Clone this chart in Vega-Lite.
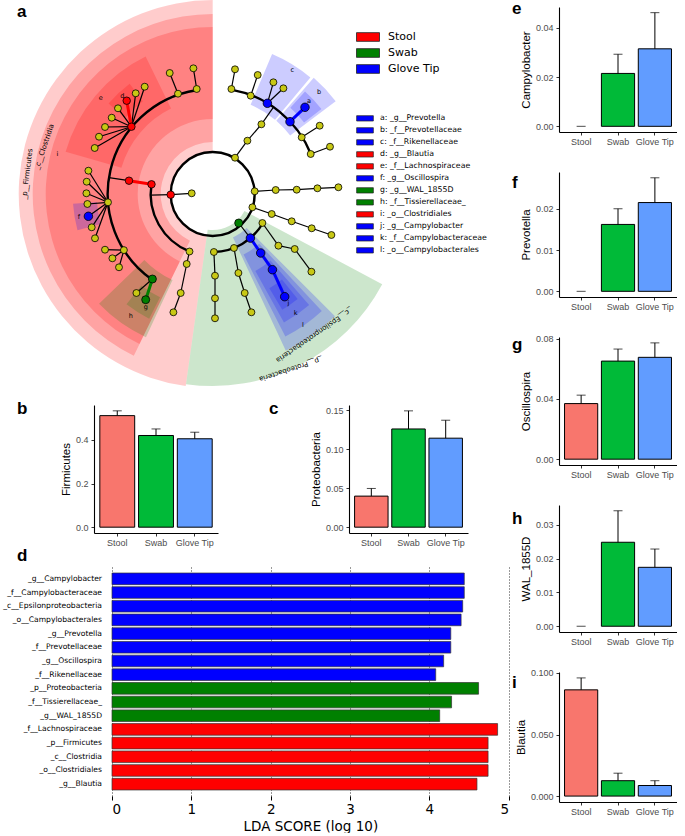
{
"$schema": "https://vega.github.io/schema/vega-lite/v6.json",
"padding": {"left": 2, "top": 0, "right": 0, "bottom": 0},
"background": "white",
"resolve": {"scale": {"color": "independent"}},
"config": {
  "view": {"stroke": null},
  "font": "Liberation Sans",
  "axis": {"labelFontSize": 9, "labelColor": "#4D4D4D", "labelFont": "Liberation Sans", "titleFont": "Liberation Sans", "titleFontSize": 11.5, "titleFontWeight": "normal", "titleColor": "black", "tickSize": 3, "tickColor": "#333333", "domainColor": "black", "domainWidth": 1.1, "labelPadding": 3, "titlePadding": 4, "grid": false},
  "axisX": {"labelPadding": 2},
  "legend": {"labelFont": "DejaVu Sans", "labelColor": "black", "padding": 0, "titlePadding": 0},
  "title": {"font": "Liberation Sans"}
},
"datasets": {
  "abund": [
    {"panel": "Firmicutes", "group": "Stool", "mean": 0.511, "upper": 0.533},
    {"panel": "Firmicutes", "group": "Swab", "mean": 0.42, "upper": 0.45},
    {"panel": "Firmicutes", "group": "Glove Tip", "mean": 0.405, "upper": 0.435},
    {"panel": "Proteobacteria", "group": "Stool", "mean": 0.0398, "upper": 0.0496},
    {"panel": "Proteobacteria", "group": "Swab", "mean": 0.1258, "upper": 0.149},
    {"panel": "Proteobacteria", "group": "Glove Tip", "mean": 0.114, "upper": 0.137},
    {"panel": "Campylobacter", "group": "Stool", "mean": 0, "upper": 0},
    {"panel": "Campylobacter", "group": "Swab", "mean": 0.0215, "upper": 0.0293},
    {"panel": "Campylobacter", "group": "Glove Tip", "mean": 0.0315, "upper": 0.0462},
    {"panel": "Prevotella", "group": "Stool", "mean": 0, "upper": 0},
    {"panel": "Prevotella", "group": "Swab", "mean": 0.0162, "upper": 0.02},
    {"panel": "Prevotella", "group": "Glove Tip", "mean": 0.0215, "upper": 0.0275},
    {"panel": "Oscillospira", "group": "Stool", "mean": 0.0369, "upper": 0.0425},
    {"panel": "Oscillospira", "group": "Swab", "mean": 0.0651, "upper": 0.0731},
    {"panel": "Oscillospira", "group": "Glove Tip", "mean": 0.0676, "upper": 0.0772},
    {"panel": "WAL_1855D", "group": "Stool", "mean": 0, "upper": 0},
    {"panel": "WAL_1855D", "group": "Swab", "mean": 0.0248, "upper": 0.0341},
    {"panel": "WAL_1855D", "group": "Glove Tip", "mean": 0.0174, "upper": 0.0228},
    {"panel": "Blautia", "group": "Stool", "mean": 0.0863, "upper": 0.096},
    {"panel": "Blautia", "group": "Swab", "mean": 0.0125, "upper": 0.0186},
    {"panel": "Blautia", "group": "Glove Tip", "mean": 0.0086, "upper": 0.0125}
  ],
  "lda": [
    {"taxon": "_g__Campylobacter", "group": "Glove Tip", "lda": 4.44},
    {"taxon": "_f__Campylobacteraceae", "group": "Glove Tip", "lda": 4.44},
    {"taxon": "_c__Epsilonproteobacteria", "group": "Glove Tip", "lda": 4.42},
    {"taxon": "_o__Campylobacterales", "group": "Glove Tip", "lda": 4.40},
    {"taxon": "_g__Prevotella", "group": "Glove Tip", "lda": 4.27},
    {"taxon": "_f__Prevotellaceae", "group": "Glove Tip", "lda": 4.27},
    {"taxon": "_g__Oscillospira", "group": "Glove Tip", "lda": 4.18},
    {"taxon": "_f__Rikenellaceae", "group": "Glove Tip", "lda": 4.08},
    {"taxon": "_p__Proteobacteria", "group": "Swab", "lda": 4.62},
    {"taxon": "_f__Tissierellaceae_", "group": "Swab", "lda": 4.28},
    {"taxon": "_g__WAL_1855D", "group": "Swab", "lda": 4.13},
    {"taxon": "_f__Lachnospiraceae", "group": "Stool", "lda": 4.86},
    {"taxon": "_p__Firmicutes", "group": "Stool", "lda": 4.74},
    {"taxon": "_c__Clostridia", "group": "Stool", "lda": 4.74},
    {"taxon": "_o__Clostridiales", "group": "Stool", "lda": 4.74},
    {"taxon": "_g__Blautia", "group": "Stool", "lda": 4.60}
  ],
  "clades": [
    {"clade": "_p__Firmicutes", "grp": "Stool", "t1": 188, "t2": 360, "r1": 42, "r2": 194},
    {"clade": "_c__Clostridia", "grp": "Stool", "t1": 206, "t2": 360, "r1": 52, "r2": 180},
    {"clade": "_p__Proteobacteria", "grp": "Swab", "t1": 118, "t2": 188, "r1": 36, "r2": 192},
    {"clade": "_c__Epsilonproteobacteria", "grp": "Glove Tip", "t1": 135, "t2": 155, "r1": 48, "r2": 173}
  ],
  "bio": [
    {"label": "i: _o__Clostridiales", "t1": 206, "t2": 360, "r1": 75, "r2": 167},
    {"label": "e: _f__Lachnospiraceae", "t1": 286, "t2": 334, "r1": 95, "r2": 153},
    {"label": "d: _g__Blautia", "t1": 311, "t2": 323, "r1": 116, "r2": 138},
    {"label": "f: _g__Oscillospira", "t1": 255, "t2": 266, "r1": 116, "r2": 140},
    {"label": "h: _f__Tissierellaceae_", "t1": 205, "t2": 226, "r1": 95, "r2": 158},
    {"label": "g: _g__WAL_1855D", "t1": 207, "t2": 218, "r1": 116, "r2": 140},
    {"label": "c: _f__Rikenellaceae", "t1": 23, "t2": 40, "r1": 97, "r2": 152},
    {"label": "b: _f__Prevotellaceae", "t1": 41, "t2": 53, "r1": 97, "r2": 154},
    {"label": "a: _g__Prevotella", "t1": 42, "t2": 52, "r1": 116, "r2": 138},
    {"label": "l: _o__Campylobacterales", "t1": 137, "t2": 153, "r1": 68, "r2": 160},
    {"label": "k: _f__Campylobacteraceae", "t1": 139, "t2": 151, "r1": 88, "r2": 147},
    {"label": "j: _g__Campylobacter", "t1": 141, "t2": 149, "r1": 110, "r2": 135}
  ],
  "links": [
    {"r": 42, "t1": 0, "t2": 360},
    {"r": 62, "t1": 202, "t2": 279},
    {"r": 105, "t1": 215, "t2": 351},
    {"r": 106, "t1": 10, "t2": 68},
    {"r": 58, "t1": 120, "t2": 179}
  ],
  "nodes": [
    {"x": -21, "y": -0.7, "grp": "none"},
    {"x": -42, "y": 0.7, "grp": "Stool"},
    {"x": -61.2, "y": -9.7, "grp": "Stool"},
    {"x": -83.7, "y": -13.3, "grp": "Stool"},
    {"x": -23.2, "y": 57.5, "grp": "none"},
    {"x": -26, "y": 70, "grp": "none"},
    {"x": -32, "y": 99, "grp": "none"},
    {"x": -39.3, "y": 118.3, "grp": "none"},
    {"x": -34.7, "y": -100.3, "grp": "none"},
    {"x": -43, "y": -121, "grp": "none"},
    {"x": -16, "y": -105, "grp": "none"},
    {"x": -19.3, "y": -125.7, "grp": "none"},
    {"x": -81.3, "y": -67.3, "grp": "Stool"},
    {"x": -86, "y": -93.3, "grp": "Stool"},
    {"x": -77, "y": -100.7, "grp": "none"},
    {"x": -68, "y": -107.3, "grp": "none"},
    {"x": -94.7, "y": -85.7, "grp": "none"},
    {"x": -101, "y": -76.3, "grp": "none"},
    {"x": -107.7, "y": -67, "grp": "none"},
    {"x": -113.7, "y": -57.3, "grp": "none"},
    {"x": -118, "y": -46, "grp": "none"},
    {"x": -104.7, "y": 8.3, "grp": "none"},
    {"x": -124.3, "y": -23.3, "grp": "none"},
    {"x": -126, "y": -12.3, "grp": "none"},
    {"x": -126.3, "y": -0.7, "grp": "none"},
    {"x": -125.3, "y": 10, "grp": "none"},
    {"x": -124.3, "y": 22.3, "grp": "Glove Tip"},
    {"x": -121, "y": 33.3, "grp": "none"},
    {"x": -117.7, "y": 44.3, "grp": "none"},
    {"x": -88.8, "y": 56.1, "grp": "none"},
    {"x": -107.7, "y": 55.7, "grp": "none"},
    {"x": -100.3, "y": 64.3, "grp": "none"},
    {"x": -93.7, "y": 73.3, "grp": "none"},
    {"x": -60.3, "y": 85, "grp": "Swab"},
    {"x": -67, "y": 105.7, "grp": "Swab"},
    {"x": -76.3, "y": 99, "grp": "none"},
    {"x": 22.3, "y": -36.3, "grp": "none"},
    {"x": 34.7, "y": -53.3, "grp": "none"},
    {"x": 48.7, "y": -69.7, "grp": "none"},
    {"x": 18.7, "y": -105, "grp": "none"},
    {"x": 22.3, "y": -124.7, "grp": "none"},
    {"x": 38, "y": -98.3, "grp": "none"},
    {"x": 45, "y": -119, "grp": "none"},
    {"x": 54.7, "y": -90.7, "grp": "Glove Tip"},
    {"x": 60.7, "y": -111.7, "grp": "none"},
    {"x": 70.7, "y": -105.7, "grp": "none"},
    {"x": 77.3, "y": -72.3, "grp": "Glove Tip"},
    {"x": 92.3, "y": -86.7, "grp": "Glove Tip"},
    {"x": 89, "y": -56.7, "grp": "none"},
    {"x": 107, "y": -68.3, "grp": "none"},
    {"x": 98, "y": -40, "grp": "none"},
    {"x": 117.3, "y": -47.3, "grp": "none"},
    {"x": 42, "y": -2.7, "grp": "none"},
    {"x": 63, "y": -4, "grp": "none"},
    {"x": 84, "y": -4.3, "grp": "none"},
    {"x": 104.7, "y": -5.7, "grp": "none"},
    {"x": 125.7, "y": -6.7, "grp": "none"},
    {"x": 39.7, "y": 13.3, "grp": "none"},
    {"x": 59, "y": 20, "grp": "none"},
    {"x": 79, "y": 27.3, "grp": "none"},
    {"x": 99, "y": 34.3, "grp": "none"},
    {"x": 118.7, "y": 41, "grp": "none"},
    {"x": 26, "y": 29, "grp": "Swab"},
    {"x": 1.2, "y": 58, "grp": "none"},
    {"x": 2.3, "y": 81.7, "grp": "none"},
    {"x": 2.3, "y": 104.3, "grp": "none"},
    {"x": 2.3, "y": 124.3, "grp": "none"},
    {"x": 21.3, "y": 54, "grp": "none"},
    {"x": 25.7, "y": 79, "grp": "none"},
    {"x": 32, "y": 99, "grp": "none"},
    {"x": 38.7, "y": 118.3, "grp": "none"},
    {"x": 37.7, "y": 44.1, "grp": "Glove Tip"},
    {"x": 48, "y": 59, "grp": "Glove Tip"},
    {"x": 59.7, "y": 75.7, "grp": "Glove Tip"},
    {"x": 72, "y": 102.7, "grp": "Glove Tip"},
    {"x": 49.7, "y": 29, "grp": "none"},
    {"x": 65.7, "y": 51.7, "grp": "none"},
    {"x": 82, "y": 55, "grp": "none"},
    {"x": 98.7, "y": 77.7, "grp": "none"}
  ],
  "edges": [
    {"x": -21, "y": -0.7, "x2": -42, "y2": 0.7, "grp": "none"},
    {"x": -42, "y": 0.7, "x2": -62, "y2": 1.1, "grp": "none"},
    {"x": -83.7, "y": -13.3, "x2": -103.7, "y2": -16.4, "grp": "none"},
    {"x": -34.7, "y": -100.3, "x2": -43, "y2": -121, "grp": "none"},
    {"x": -16, "y": -105, "x2": -19.3, "y2": -125.7, "grp": "none"},
    {"x": -81.3, "y": -67.3, "x2": -77, "y2": -100.7, "grp": "none"},
    {"x": -81.3, "y": -67.3, "x2": -68, "y2": -107.3, "grp": "none"},
    {"x": -81.3, "y": -67.3, "x2": -94.7, "y2": -85.7, "grp": "none"},
    {"x": -81.3, "y": -67.3, "x2": -101, "y2": -76.3, "grp": "none"},
    {"x": -81.3, "y": -67.3, "x2": -107.7, "y2": -67, "grp": "none"},
    {"x": -81.3, "y": -67.3, "x2": -113.7, "y2": -57.3, "grp": "none"},
    {"x": -81.3, "y": -67.3, "x2": -118, "y2": -46, "grp": "none"},
    {"x": -104.7, "y": 8.3, "x2": -124.3, "y2": -23.3, "grp": "none"},
    {"x": -104.7, "y": 8.3, "x2": -126, "y2": -12.3, "grp": "none"},
    {"x": -104.7, "y": 8.3, "x2": -126.3, "y2": -0.7, "grp": "none"},
    {"x": -104.7, "y": 8.3, "x2": -125.3, "y2": 10, "grp": "none"},
    {"x": -104.7, "y": 8.3, "x2": -124.3, "y2": 22.3, "grp": "none"},
    {"x": -104.7, "y": 8.3, "x2": -121, "y2": 33.3, "grp": "none"},
    {"x": -104.7, "y": 8.3, "x2": -117.7, "y2": 44.3, "grp": "none"},
    {"x": -88.8, "y": 56.1, "x2": -107.7, "y2": 55.7, "grp": "none"},
    {"x": -88.8, "y": 56.1, "x2": -100.3, "y2": 64.3, "grp": "none"},
    {"x": -88.8, "y": 56.1, "x2": -93.7, "y2": 73.3, "grp": "none"},
    {"x": -60.3, "y": 85, "x2": -76.3, "y2": 99, "grp": "none"},
    {"x": -23.2, "y": 57.5, "x2": -26, "y2": 70, "grp": "none"},
    {"x": -26, "y": 70, "x2": -32, "y2": 99, "grp": "none"},
    {"x": -32, "y": 99, "x2": -39.3, "y2": 118.3, "grp": "none"},
    {"x": 22.3, "y": -36.3, "x2": 34.7, "y2": -53.3, "grp": "none"},
    {"x": 34.7, "y": -53.3, "x2": 48.7, "y2": -69.7, "grp": "none"},
    {"x": 48.7, "y": -69.7, "x2": 60.8, "y2": -86.8, "grp": "none"},
    {"x": 18.7, "y": -105, "x2": 22.3, "y2": -124.7, "grp": "none"},
    {"x": 38, "y": -98.3, "x2": 45, "y2": -119, "grp": "none"},
    {"x": 54.7, "y": -90.7, "x2": 60.7, "y2": -111.7, "grp": "none"},
    {"x": 54.7, "y": -90.7, "x2": 70.7, "y2": -105.7, "grp": "none"},
    {"x": 89, "y": -56.7, "x2": 107, "y2": -68.3, "grp": "none"},
    {"x": 98, "y": -40, "x2": 117.3, "y2": -47.3, "grp": "none"},
    {"x": 42, "y": -2.7, "x2": 63, "y2": -4, "grp": "none"},
    {"x": 63, "y": -4, "x2": 84, "y2": -4.3, "grp": "none"},
    {"x": 84, "y": -4.3, "x2": 104.7, "y2": -5.7, "grp": "none"},
    {"x": 104.7, "y": -5.7, "x2": 125.7, "y2": -6.7, "grp": "none"},
    {"x": 39.7, "y": 13.3, "x2": 59, "y2": 20, "grp": "none"},
    {"x": 59, "y": 20, "x2": 79, "y2": 27.3, "grp": "none"},
    {"x": 79, "y": 27.3, "x2": 99, "y2": 34.3, "grp": "none"},
    {"x": 99, "y": 34.3, "x2": 118.7, "y2": 41, "grp": "none"},
    {"x": 26, "y": 29, "x2": 37.7, "y2": 44.1, "grp": "none"},
    {"x": 1.2, "y": 58, "x2": 2.3, "y2": 81.7, "grp": "none"},
    {"x": 2.3, "y": 81.7, "x2": 2.3, "y2": 104.3, "grp": "none"},
    {"x": 2.3, "y": 104.3, "x2": 2.3, "y2": 124.3, "grp": "none"},
    {"x": 21.3, "y": 54, "x2": 25.7, "y2": 79, "grp": "none"},
    {"x": 25.7, "y": 79, "x2": 32, "y2": 99, "grp": "none"},
    {"x": 32, "y": 99, "x2": 38.7, "y2": 118.3, "grp": "none"},
    {"x": 49.7, "y": 29, "x2": 65.7, "y2": 51.7, "grp": "none"},
    {"x": 65.7, "y": 51.7, "x2": 82, "y2": 55, "grp": "none"},
    {"x": 82, "y": 55, "x2": 98.7, "y2": 77.7, "grp": "none"},
    {"x": -61.2, "y": -9.7, "x2": -83.7, "y2": -13.3, "grp": "Stool"},
    {"x": -81.3, "y": -67.3, "x2": -86, "y2": -93.3, "grp": "Stool"},
    {"x": -60.3, "y": 85, "x2": -67, "y2": 105.7, "grp": "Swab"},
    {"x": 77.3, "y": -72.3, "x2": 92.3, "y2": -86.7, "grp": "Glove Tip"},
    {"x": 37.7, "y": 44.1, "x2": 48, "y2": 59, "grp": "Glove Tip"},
    {"x": 48, "y": 59, "x2": 59.7, "y2": 75.7, "grp": "Glove Tip"},
    {"x": 59.7, "y": 75.7, "x2": 72, "y2": 102.7, "grp": "Glove Tip"}
  ],
  "letters": [
    {"txt": "a", "x": 96.3, "y": -92.7},
    {"txt": "b", "x": 106.3, "y": -101.7},
    {"txt": "c", "x": 79.7, "y": -124},
    {"txt": "d", "x": -90.3, "y": -98.3},
    {"txt": "e", "x": -112, "y": -95.7},
    {"txt": "f", "x": -133.7, "y": 23.3},
    {"txt": "g", "x": -67, "y": 113.3},
    {"txt": "h", "x": -82, "y": 121.7},
    {"txt": "i", "x": -155.3, "y": -40},
    {"txt": "j", "x": 75.7, "y": 109},
    {"txt": "k", "x": 83, "y": 119},
    {"txt": "l", "x": 90.3, "y": 131}
  ],
  "cladeLabels": [
    {"txt": "_p__Firmicutes", "x": -185.3, "y": -20},
    {"txt": "_c__Clostridia", "x": -168.3, "y": -47.3},
    {"txt": "_c__Epsilonproteobacteria", "x": 101.3, "y": 141},
    {"txt": "_p__Proteobacteria", "x": 78, "y": 175}
  ]
},
"spacing": 2,
"hconcat": [
  {
    "spacing": 0,
    "resolve": {"scale": {"color": "independent"}},
    "vconcat": [
      {
        "width": 397, "height": 392.25,
        "title": {"text": "a", "anchor": "start", "frame": "group", "dx": -95, "dy": 34, "offset": 0, "fontSize": 17, "fontWeight": "bold", "color": "black", "baseline": "alphabetic"},
        "layer": [
          {
            "data": {"name": "clades"},
            "mark": {"type": "arc", "fillOpacity": 0.2},
            "encoding": {
              "x": {"datum": 0, "type": "quantitative", "scale": {"domain": [-100.7, 296.3], "nice": false, "zero": false}, "axis": null},
              "y": {"datum": 0, "type": "quantitative", "scale": {"domain": [-187, 205.25], "reverse": true, "nice": false, "zero": false}, "axis": null},
              "theta": {"field": "t1", "type": "quantitative", "scale": {"type": "linear", "domain": [0, 360], "range": [0, 6.283185307179586], "zero": false, "nice": false}},
              "theta2": {"field": "t2"},
              "radius": {"field": "r2", "type": "quantitative", "scale": {"type": "linear", "domain": [0, 196], "range": [0, 196], "zero": true, "nice": false}},
              "radius2": {"field": "r1"},
              "color": {"field": "grp", "type": "nominal", "scale": {"domain": ["Stool", "Swab", "Glove Tip", "none"], "range": ["#FF0000", "#008000", "#0000FF", "#C8C814"]}}
            }
          },
          {
            "data": {"name": "bio"},
            "mark": {"type": "arc", "fillOpacity": 0.2},
            "encoding": {
              "x": {"datum": 0, "type": "quantitative", "axis": null},
              "y": {"datum": 0, "type": "quantitative", "axis": null},
              "theta": {"field": "t1", "type": "quantitative"},
              "theta2": {"field": "t2"},
              "radius": {"field": "r2", "type": "quantitative"},
              "radius2": {"field": "r1"},
              "fill": {"field": "label", "type": "nominal",
                "scale": {"domain": ["a: _g__Prevotella", "b: _f__Prevotellaceae", "c: _f__Rikenellaceae", "d: _g__Blautia", "e: _f__Lachnospiraceae", "f: _g__Oscillospira", "g: _g__WAL_1855D", "h: _f__Tissierellaceae_", "i: _o__Clostridiales", "j: _g__Campylobacter", "k: _f__Campylobacteraceae", "l: _o__Campylobacterales"],
                          "range": ["#0000FF", "#0000FF", "#0000FF", "#FF0000", "#FF0000", "#0000FF", "#008000", "#008000", "#FF0000", "#0000FF", "#0000FF", "#0000FF"]},
                "legend": {"title": null, "orient": "none", "legendX": 244, "legendY": 105.5, "clipHeight": 11.7, "symbolType": "M-1,-0.32H1V0.32H-1Z", "symbolSize": 279, "symbolStrokeColor": "#222222", "symbolStrokeWidth": 0.7, "symbolOpacity": 1, "labelFontSize": 7.8, "labelFont": "DejaVu Sans", "labelColor": "black", "labelOffset": 6, "rowPadding": 0, "padding": 0}}
            }
          },
          {
            "data": {"name": "links"},
            "mark": {"type": "arc", "filled": false, "stroke": "black", "strokeWidth": 2.4},
            "encoding": {
              "x": {"datum": 0, "type": "quantitative", "axis": null},
              "y": {"datum": 0, "type": "quantitative", "axis": null},
              "theta": {"field": "t1", "type": "quantitative"},
              "theta2": {"field": "t2"},
              "radius": {"field": "r", "type": "quantitative"},
              "radius2": {"field": "r"}
            }
          },
          {
            "data": {"name": "edges"},
            "transform": [{"filter": "datum.grp === 'none'"}],
            "mark": {"type": "rule", "color": "black", "strokeWidth": 1.2},
            "encoding": {
              "x": {"field": "x", "type": "quantitative", "axis": null},
              "y": {"field": "y", "type": "quantitative", "axis": null},
              "x2": {"field": "x2"},
              "y2": {"field": "y2"}
            }
          },
          {
            "data": {"name": "edges"},
            "transform": [{"filter": "datum.grp !== 'none'"}],
            "mark": {"type": "rule", "strokeWidth": 3},
            "encoding": {
              "x": {"field": "x", "type": "quantitative", "axis": null},
              "y": {"field": "y", "type": "quantitative", "axis": null},
              "x2": {"field": "x2"},
              "y2": {"field": "y2"},
              "stroke": {"field": "grp", "type": "nominal", "scale": {"domain": ["Stool", "Swab", "Glove Tip"], "range": ["#FF0000", "#008000", "#0000FF"]}, "legend": null}
            }
          },
          {
            "data": {"name": "nodes"},
            "mark": {"type": "point", "filled": true, "stroke": "black", "strokeWidth": 0.8, "opacity": 1},
            "encoding": {
              "x": {"field": "x", "type": "quantitative", "axis": null},
              "y": {"field": "y", "type": "quantitative", "axis": null},
              "color": {"field": "grp", "type": "nominal",
                "legend": {"title": null, "values": ["Stool", "Swab", "Glove Tip"], "orient": "none", "legendX": 244, "legendY": 22, "clipHeight": 16, "symbolType": "M-1,-0.38H1V0.38H-1Z", "symbolSize": 529, "symbolStrokeColor": "#222222", "symbolStrokeWidth": 0.8, "symbolOpacity": 1, "labelFontSize": 11, "labelFont": "DejaVu Sans", "labelColor": "black", "labelOffset": 8, "rowPadding": 0, "padding": 0}},
              "size": {"field": "grp", "type": "ordinal", "scale": {"domain": ["none", "Stool", "Swab", "Glove Tip"], "range": [48, 72, 72, 72]}, "legend": null}
            }
          },
          {
            "data": {"name": "letters"},
            "mark": {"type": "text", "font": "DejaVu Sans", "fontSize": 6.5, "color": "black"},
            "encoding": {
              "x": {"field": "x", "type": "quantitative", "axis": null},
              "y": {"field": "y", "type": "quantitative", "axis": null},
              "text": {"field": "txt"}
            }
          },
          {
            "data": {"name": "cladeLabels"},
            "transform": [{"filter": "datum.txt === '_p__Firmicutes'"}],
            "mark": {"type": "text", "font": "DejaVu Sans", "fontSize": 7, "color": "black", "angle": 277},
            "encoding": {"x": {"field": "x", "type": "quantitative", "axis": null}, "y": {"field": "y", "type": "quantitative", "axis": null}, "text": {"field": "txt"}}
          },
          {
            "data": {"name": "cladeLabels"},
            "transform": [{"filter": "datum.txt === '_c__Clostridia'"}],
            "mark": {"type": "text", "font": "DejaVu Sans", "fontSize": 7, "color": "black", "angle": 289},
            "encoding": {"x": {"field": "x", "type": "quantitative", "axis": null}, "y": {"field": "y", "type": "quantitative", "axis": null}, "text": {"field": "txt"}}
          },
          {
            "data": {"name": "cladeLabels"},
            "transform": [{"filter": "datum.txt === '_c__Epsilonproteobacteria'"}],
            "mark": {"type": "text", "font": "DejaVu Sans", "fontSize": 7, "color": "black", "angle": 145.5},
            "encoding": {"x": {"field": "x", "type": "quantitative", "axis": null}, "y": {"field": "y", "type": "quantitative", "axis": null}, "text": {"field": "txt"}}
          },
          {
            "data": {"name": "cladeLabels"},
            "transform": [{"filter": "datum.txt === '_p__Proteobacteria'"}],
            "mark": {"type": "text", "font": "DejaVu Sans", "fontSize": 7, "color": "black", "angle": 162},
            "encoding": {"x": {"field": "x", "type": "quantitative", "axis": null}, "y": {"field": "y", "type": "quantitative", "axis": null}, "text": {"field": "txt"}}
          }
        ]
      },
      {
        "spacing": 33,
        "hconcat": [
          {
            "width": 106, "height": 128,
            "title": {"text": "b", "anchor": "start", "frame": "group", "dx": -95, "dy": 26, "offset": 0, "fontSize": 17, "fontWeight": "bold", "color": "black", "baseline": "alphabetic"},
            "data": {"name": "abund"},
            "transform": [{"filter": "datum.panel === 'Firmicutes'"}],
            "encoding": {"x": {"field": "group", "type": "nominal", "sort": ["Stool", "Swab", "Glove Tip"], "scale": {"paddingInner": 0.1, "paddingOuter": 0.15, "range": [-18, 106]}, "axis": {"title": null, "labelAngle": 0}}},
            "layer": [
              {"transform": [{"filter": "datum.mean > 0"}], "mark": {"type": "bar", "stroke": "black", "strokeWidth": 1},
               "encoding": {"y": {"field": "mean", "type": "quantitative", "scale": {"domain": [-0.0267, 0.5597], "nice": false, "zero": false}, "axis": {"title": "Firmicutes", "values": [0, 0.2, 0.4], "format": ".1f", "offset": 18}}, "y2": {"datum": 0},
                 "color": {"field": "group", "type": "nominal", "scale": {"domain": ["Stool", "Swab", "Glove Tip"], "range": ["#F8766D", "#00BA38", "#619CFF"]}, "legend": null}}},
              {"mark": {"type": "rule", "color": "black", "strokeWidth": 1}, "encoding": {"y": {"field": "mean", "type": "quantitative"}, "y2": {"field": "upper"}}},
              {"mark": {"type": "tick", "color": "black", "size": 9, "thickness": 1}, "encoding": {"y": {"field": "upper", "type": "quantitative"}}}
            ]
          },
          {
            "width": 119, "height": 128,
            "title": {"text": "c", "anchor": "start", "frame": "group", "dx": -80, "dy": 26, "offset": 0, "fontSize": 17, "fontWeight": "bold", "color": "black", "baseline": "alphabetic"},
            "data": {"name": "abund"},
            "transform": [{"filter": "datum.panel === 'Proteobacteria'"}],
            "encoding": {"x": {"field": "group", "type": "nominal", "sort": ["Stool", "Swab", "Glove Tip"], "scale": {"paddingInner": 0.1, "paddingOuter": 0.15}, "axis": {"title": null, "labelAngle": 0}}},
            "layer": [
              {"transform": [{"filter": "datum.mean > 0"}], "mark": {"type": "bar", "stroke": "black", "strokeWidth": 1},
               "encoding": {"y": {"field": "mean", "type": "quantitative", "scale": {"domain": [-0.00745, 0.1565], "nice": false, "zero": false}, "axis": {"title": "Proteobacteria", "values": [0, 0.05, 0.1, 0.15], "format": ".2f"}}, "y2": {"datum": 0},
                 "color": {"field": "group", "type": "nominal", "scale": {"domain": ["Stool", "Swab", "Glove Tip"], "range": ["#F8766D", "#00BA38", "#619CFF"]}, "legend": null}}},
              {"mark": {"type": "rule", "color": "black", "strokeWidth": 1}, "encoding": {"y": {"field": "mean", "type": "quantitative"}, "y2": {"field": "upper"}}},
              {"mark": {"type": "tick", "color": "black", "size": 9, "thickness": 1}, "encoding": {"y": {"field": "upper", "type": "quantitative"}}}
            ]
          }
        ]
      },
      {
        "width": 396.7, "height": 229,
        "title": {"text": "d", "anchor": "start", "frame": "group", "dx": -95, "dy": 11, "offset": 0, "fontSize": 17, "fontWeight": "bold", "color": "black", "baseline": "alphabetic"},
        "data": {"name": "lda"},
        "mark": {"type": "bar", "stroke": "#333333", "strokeWidth": 0.7},
        "encoding": {
          "y": {"field": "taxon", "type": "nominal", "sort": null, "scale": {"paddingInner": 0.15, "paddingOuter": 0.44}, "axis": {"title": null, "labelFont": "DejaVu Sans", "labelFontSize": 7.6, "labelColor": "black", "ticks": false, "domain": false, "labelPadding": 10.5}},
          "x": {"field": "lda", "type": "quantitative", "scale": {"domain": [0, 5], "nice": false}, "axis": {"title": "LDA SCORE (log 10)", "values": [0, 1, 2, 3, 4, 5], "format": "d", "labelFont": "DejaVu Sans", "labelFontSize": 13.5, "labelColor": "black", "titleFont": "DejaVu Sans", "titleFontSize": 13.5, "grid": true, "gridColor": "black", "gridDash": [1, 2], "gridWidth": 0.8, "domain": false, "tickSize": 4, "tickColor": "black", "labelPadding": 2, "titlePadding": 4}},
          "color": {"field": "group", "type": "nominal", "scale": {"domain": ["Stool", "Swab", "Glove Tip"], "range": ["#FF0000", "#008000", "#0000FF"]}, "legend": null}
        }
      }
    ]
  },
  {
    "spacing": 40,
    "bounds": "flush",
    "vconcat": [
      {
        "width": 118, "height": 125,
        "title": {"text": "e", "anchor": "start", "frame": "group", "dx": -47, "dy": 24, "offset": 0, "fontSize": 17, "fontWeight": "bold", "color": "black", "baseline": "alphabetic"},
        "data": {"name": "abund"},
        "transform": [{"filter": "datum.panel === 'Campylobacter'"}],
        "encoding": {"x": {"field": "group", "type": "nominal", "sort": ["Stool", "Swab", "Glove Tip"], "scale": {"paddingInner": 0.1, "paddingOuter": 0.15}, "axis": {"title": null, "labelAngle": 0}}},
        "layer": [
          {"transform": [{"filter": "datum.mean > 0"}], "mark": {"type": "bar", "stroke": "black", "strokeWidth": 1},
           "encoding": {"y": {"field": "mean", "type": "quantitative", "scale": {"domain": [-0.00231, 0.0485], "nice": false, "zero": false}, "axis": {"title": "Campylobacter", "values": [0, 0.01, 0.02, 0.03, 0.04], "format": ".2f"}}, "y2": {"datum": 0},
             "color": {"field": "group", "type": "nominal", "scale": {"domain": ["Stool", "Swab", "Glove Tip"], "range": ["#F8766D", "#00BA38", "#619CFF"]}, "legend": null}}},
          {"mark": {"type": "rule", "color": "black", "strokeWidth": 1}, "encoding": {"y": {"field": "mean", "type": "quantitative"}, "y2": {"field": "upper"}}},
          {"mark": {"type": "tick", "color": "black", "size": 9, "thickness": 1}, "encoding": {"y": {"field": "upper", "type": "quantitative"}}}
        ]
      },
      {
        "width": 118, "height": 125,
        "title": {"text": "f", "anchor": "start", "frame": "group", "dx": -47, "dy": 33, "offset": 0, "fontSize": 17, "fontWeight": "bold", "color": "black", "baseline": "alphabetic"},
        "data": {"name": "abund"},
        "transform": [{"filter": "datum.panel === 'Prevotella'"}],
        "encoding": {"x": {"field": "group", "type": "nominal", "sort": ["Stool", "Swab", "Glove Tip"], "scale": {"paddingInner": 0.1, "paddingOuter": 0.15}, "axis": {"title": null, "labelAngle": 0}}},
        "layer": [
          {"transform": [{"filter": "datum.mean > 0"}], "mark": {"type": "bar", "stroke": "black", "strokeWidth": 1},
           "encoding": {"y": {"field": "mean", "type": "quantitative", "scale": {"domain": [-0.001375, 0.0289], "nice": false, "zero": false}, "axis": {"title": "Prevotella", "values": [0, 0.01, 0.02], "format": ".2f"}}, "y2": {"datum": 0},
             "color": {"field": "group", "type": "nominal", "scale": {"domain": ["Stool", "Swab", "Glove Tip"], "range": ["#F8766D", "#00BA38", "#619CFF"]}, "legend": null}}},
          {"mark": {"type": "rule", "color": "black", "strokeWidth": 1}, "encoding": {"y": {"field": "mean", "type": "quantitative"}, "y2": {"field": "upper"}}},
          {"mark": {"type": "tick", "color": "black", "size": 9, "thickness": 1}, "encoding": {"y": {"field": "upper", "type": "quantitative"}}}
        ]
      },
      {
        "width": 118, "height": 128,
        "title": {"text": "g", "anchor": "start", "frame": "group", "dx": -47, "dy": 32, "offset": 0, "fontSize": 17, "fontWeight": "bold", "color": "black", "baseline": "alphabetic"},
        "data": {"name": "abund"},
        "transform": [{"filter": "datum.panel === 'Oscillospira'"}],
        "encoding": {"x": {"field": "group", "type": "nominal", "sort": ["Stool", "Swab", "Glove Tip"], "scale": {"paddingInner": 0.1, "paddingOuter": 0.15}, "axis": {"title": null, "labelAngle": 0}}},
        "layer": [
          {"transform": [{"filter": "datum.mean > 0"}], "mark": {"type": "bar", "stroke": "black", "strokeWidth": 1},
           "encoding": {"y": {"field": "mean", "type": "quantitative", "scale": {"domain": [-0.00386, 0.0811], "nice": false, "zero": false}, "axis": {"title": "Oscillospira", "values": [0, 0.02, 0.04, 0.06, 0.08], "format": ".2f"}}, "y2": {"datum": 0},
             "color": {"field": "group", "type": "nominal", "scale": {"domain": ["Stool", "Swab", "Glove Tip"], "range": ["#F8766D", "#00BA38", "#619CFF"]}, "legend": null}}},
          {"mark": {"type": "rule", "color": "black", "strokeWidth": 1}, "encoding": {"y": {"field": "mean", "type": "quantitative"}, "y2": {"field": "upper"}}},
          {"mark": {"type": "tick", "color": "black", "size": 9, "thickness": 1}, "encoding": {"y": {"field": "upper", "type": "quantitative"}}}
        ]
      },
      {
        "width": 118, "height": 127,
        "title": {"text": "h", "anchor": "start", "frame": "group", "dx": -47, "dy": 35.5, "offset": 0, "fontSize": 17, "fontWeight": "bold", "color": "black", "baseline": "alphabetic"},
        "data": {"name": "abund"},
        "transform": [{"filter": "datum.panel === 'WAL_1855D'"}],
        "encoding": {"x": {"field": "group", "type": "nominal", "sort": ["Stool", "Swab", "Glove Tip"], "scale": {"paddingInner": 0.1, "paddingOuter": 0.15}, "axis": {"title": null, "labelAngle": 0}}},
        "layer": [
          {"transform": [{"filter": "datum.mean > 0"}], "mark": {"type": "bar", "stroke": "black", "strokeWidth": 1},
           "encoding": {"y": {"field": "mean", "type": "quantitative", "scale": {"domain": [-0.0017, 0.0358], "nice": false, "zero": false}, "axis": {"title": "WAL_1855D", "values": [0, 0.01, 0.02, 0.03], "format": ".2f"}}, "y2": {"datum": 0},
             "color": {"field": "group", "type": "nominal", "scale": {"domain": ["Stool", "Swab", "Glove Tip"], "range": ["#F8766D", "#00BA38", "#619CFF"]}, "legend": null}}},
          {"mark": {"type": "rule", "color": "black", "strokeWidth": 1}, "encoding": {"y": {"field": "mean", "type": "quantitative"}, "y2": {"field": "upper"}}},
          {"mark": {"type": "tick", "color": "black", "size": 9, "thickness": 1}, "encoding": {"y": {"field": "upper", "type": "quantitative"}}}
        ]
      },
      {
        "width": 118, "height": 130,
        "title": {"text": "i", "anchor": "start", "frame": "group", "dx": -47, "dy": 36.5, "offset": 0, "fontSize": 17, "fontWeight": "bold", "color": "black", "baseline": "alphabetic"},
        "data": {"name": "abund"},
        "transform": [{"filter": "datum.panel === 'Blautia'"}],
        "encoding": {"x": {"field": "group", "type": "nominal", "sort": ["Stool", "Swab", "Glove Tip"], "scale": {"paddingInner": 0.1, "paddingOuter": 0.15}, "axis": {"title": null, "labelAngle": 0}}},
        "layer": [
          {"transform": [{"filter": "datum.mean > 0"}], "mark": {"type": "bar", "stroke": "black", "strokeWidth": 1},
           "encoding": {"y": {"field": "mean", "type": "quantitative", "scale": {"domain": [-0.0048, 0.1008], "nice": false, "zero": false}, "axis": {"title": "Blautia", "values": [0, 0.025, 0.05, 0.075, 0.1], "format": ".3f"}}, "y2": {"datum": 0},
             "color": {"field": "group", "type": "nominal", "scale": {"domain": ["Stool", "Swab", "Glove Tip"], "range": ["#F8766D", "#00BA38", "#619CFF"]}, "legend": null}}},
          {"mark": {"type": "rule", "color": "black", "strokeWidth": 1}, "encoding": {"y": {"field": "mean", "type": "quantitative"}, "y2": {"field": "upper"}}},
          {"mark": {"type": "tick", "color": "black", "size": 9, "thickness": 1}, "encoding": {"y": {"field": "upper", "type": "quantitative"}}}
        ]
      }
    ]
  }
]
}
